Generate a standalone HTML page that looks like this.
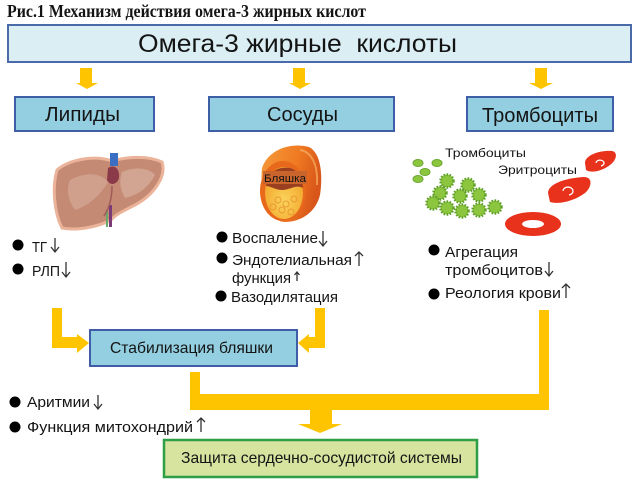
<!DOCTYPE html>
<html><head><meta charset="utf-8">
<style>
html,body{margin:0;padding:0;background:#fff;}
svg{display:block;}
text{font-family:"Liberation Sans","DejaVu Sans",sans-serif;fill:#141414;}
</style></head>
<body>
<svg width="637" height="490" viewBox="0 0 637 490" xmlns="http://www.w3.org/2000/svg">
<defs>
<linearGradient id="tube" x1="0" y1="0" x2="1" y2="0.3">
<stop offset="0" stop-color="#f59a3a"/><stop offset="0.6" stop-color="#ef7a22"/><stop offset="1" stop-color="#d9561a"/>
</linearGradient>
<radialGradient id="lumen" cx="0.5" cy="0.65" r="0.6">
<stop offset="0" stop-color="#fbd45a"/><stop offset="1" stop-color="#f2a52c"/>
</radialGradient>
</defs>

<!-- Title -->
<text x="7" y="17" style="font-family:'Liberation Serif',serif;font-weight:bold;font-size:18px" textLength="359" lengthAdjust="spacingAndGlyphs">Рис.1 Механизм действия омега-3 жирных кислот</text>

<!-- Top box -->
<rect x="8" y="25" width="623" height="37" fill="#dbeef4" stroke="#4a6aaa" stroke-width="2"/>
<text x="138" y="52" style="font-size:25px;white-space:pre" textLength="319" lengthAdjust="spacingAndGlyphs">Омега-3 жирные  кислоты</text>

<!-- Top arrows -->
<g fill="#ffc400">
<path d="M80,68 H92 V83 H98 L87,89 L76,83 H80 Z"/>
<path d="M293,68 H305 V83 H311 L300,89 L289,83 H293 Z"/>
<path d="M535,68 H547 V83 H553 L541,89 L529,83 H535 Z"/>
</g>

<!-- Category boxes -->
<rect x="15" y="97" width="139" height="34" fill="#93cfe0" stroke="#3e5fa8" stroke-width="2"/>
<text x="45" y="121" style="font-size:20px" textLength="75" lengthAdjust="spacingAndGlyphs">Липиды</text>
<rect x="209" y="97" width="185" height="34" fill="#93cfe0" stroke="#3e5fa8" stroke-width="2"/>
<text x="267" y="121" style="font-size:20px" textLength="71" lengthAdjust="spacingAndGlyphs">Сосуды</text>
<rect x="467" y="97" width="146" height="34" fill="#93cfe0" stroke="#3e5fa8" stroke-width="2"/>
<text x="482" y="122" style="font-size:20px" textLength="116" lengthAdjust="spacingAndGlyphs">Тромбоциты</text>

<!-- Liver -->
<g>
<path d="M57,170 C70,159 95,155 112,161 C126,157 147,155 162,162 C167,177 153,196 133,206 C123,211 115,215 111,220 C98,227 76,231 62,228 C54,212 52,187 57,170 Z" fill="#c48a74" stroke="#eab39a" stroke-width="3"/>
<path d="M70,180 C85,172 100,172 108,182 C100,195 90,205 75,210 C68,200 66,190 70,180 Z" fill="#d3a593" opacity="0.8"/>
<path d="M122,172 C135,166 150,168 155,175 C148,188 138,195 125,198 C120,190 119,180 122,172 Z" fill="#d6ab9a" opacity="0.8"/>
<path d="M108,168 C114,164 120,168 119,178 C117,185 110,186 107,180 Z" fill="#8b3a4a"/>
<rect x="110" y="153" width="8" height="13" fill="#3b6fc4"/>
<rect x="106" y="210" width="2" height="17" fill="#6aa86a"/>
<rect x="109" y="205" width="3" height="22" fill="#7a3a7a"/>
<path d="M112,186 C112,200 108,210 104,216" stroke="#a05a5a" stroke-width="1.5" fill="none"/>
</g>

<!-- Vessel -->
<g>
<path d="M262,168 C268,150 290,142 309,147 C321,153 323,175 320,195 C316,212 301,222 285,222 C270,222 259,198 262,168 Z" fill="url(#tube)"/>
<path d="M300,150 C312,152 318,165 317,185" stroke="#f8b060" stroke-width="2" fill="none" opacity="0.7"/>
<ellipse cx="283" cy="191" rx="23" ry="30" fill="#e8681c"/>
<ellipse cx="284" cy="193" rx="19" ry="26" fill="url(#lumen)"/>
<path d="M266,186 C268,172 278,166 290,168 C298,170 302,178 303,188 C296,184 290,190 282,190 C276,190 270,186 266,186 Z" fill="#9a4020"/>
<g fill="none" stroke="#e69030" stroke-width="1" opacity="0.8">
<circle cx="278" cy="200" r="3"/><circle cx="286" cy="204" r="3"/><circle cx="294" cy="199" r="3"/><circle cx="282" cy="210" r="3"/><circle cx="291" cy="212" r="3"/><circle cx="273" cy="207" r="3"/>
</g>
<rect x="263" y="171" width="44" height="13" fill="#c8642c"/>
<text x="264" y="182" style="font-size:11px" textLength="42" lengthAdjust="spacingAndGlyphs">Бляшка</text>
</g>

<!-- Platelets & erythrocytes -->
<text x="445" y="157" style="font-size:11.5px" textLength="81" lengthAdjust="spacingAndGlyphs">Тромбоциты</text>
<text x="498" y="174" style="font-size:11.5px" textLength="79" lengthAdjust="spacingAndGlyphs">Эритроциты</text>
<g fill="#8cc63f" stroke="#6aa832" stroke-width="1">
<ellipse cx="418" cy="163" rx="5" ry="3.5"/>
<ellipse cx="437" cy="163" rx="5" ry="3.5"/>
<ellipse cx="425" cy="172" rx="5" ry="3.5"/>
<ellipse cx="418" cy="179" rx="5" ry="3.5"/>
</g>
<g fill="#8cc63f" stroke="#5f9e2a" stroke-width="2.5" stroke-dasharray="1.5 1.5">
<circle cx="447" cy="181" r="6.5"/>
<circle cx="468" cy="185" r="6.5"/>
<circle cx="440" cy="193" r="6.5"/>
<circle cx="460" cy="196" r="6.5"/>
<circle cx="479" cy="195" r="6.5"/>
<circle cx="433" cy="203" r="6.5"/>
<circle cx="447" cy="208" r="6.5"/>
<circle cx="462" cy="211" r="6.5"/>
<circle cx="479" cy="210" r="6.5"/>
<circle cx="495" cy="207" r="6.5"/>
</g>
<g fill="#e8321c">
<path d="M585,163 C585,155 600,150 612,151 C618,152 617,160 610,165 C604,170 592,174 586,170 Z"/>
<path d="M548,193 C548,184 565,178 584,177 C593,177 592,187 585,193 C576,200 560,205 550,202 Z"/>
<ellipse cx="533" cy="224" rx="28" ry="12"/>
</g>
<ellipse cx="533" cy="224" rx="11" ry="4" fill="#fff"/>
<path d="M596,163 a4,3 0 1 1 5,3" stroke="#fff" stroke-width="1.3" fill="none"/>
<path d="M563,191 a5,4 0 1 1 6,4" stroke="#fff" stroke-width="1.3" fill="none"/>

<!-- Bullets -->
<g fill="#000">
<circle cx="18" cy="245" r="5.5"/>
<circle cx="18" cy="269" r="5.5"/>
<circle cx="222" cy="237" r="5.5"/>
<circle cx="222" cy="258" r="5.5"/>
<circle cx="221" cy="296" r="5.5"/>
<circle cx="434" cy="250" r="5.5"/>
<circle cx="434" cy="294" r="5.5"/>
<circle cx="15" cy="402" r="5.5"/>
<circle cx="15" cy="427" r="5.5"/>
</g>
<g style="font-size:15px">
<text x="32" y="252" textLength="15" lengthAdjust="spacingAndGlyphs">ТГ</text>
<text x="32" y="276" textLength="28" lengthAdjust="spacingAndGlyphs">РЛП</text>
<text x="232" y="243" textLength="86" lengthAdjust="spacingAndGlyphs">Воспаление</text>
<text x="232" y="265" textLength="120" lengthAdjust="spacingAndGlyphs">Эндотелиальная</text>
<text x="232" y="283" textLength="59" lengthAdjust="spacingAndGlyphs">функция</text>
<text x="231" y="302" textLength="107" lengthAdjust="spacingAndGlyphs">Вазодилятация</text>
<text x="445" y="257" textLength="73" lengthAdjust="spacingAndGlyphs">Агрегация</text>
<text x="445" y="275" textLength="98" lengthAdjust="spacingAndGlyphs">тромбоцитов</text>
<text x="445" y="298" textLength="116" lengthAdjust="spacingAndGlyphs">Реология крови</text>
<text x="27" y="407" textLength="63" lengthAdjust="spacingAndGlyphs">Аритмии</text>
<text x="27" y="432" textLength="166" lengthAdjust="spacingAndGlyphs">Функция митохондрий</text>
</g>

<!-- thin up/down arrows -->
<g stroke="#333" stroke-width="1.3" fill="none">
<path d="M55,238 V252 M51,247 L55,252 L59,247"/>
<path d="M66,262 V277 M62,272 L66,277 L70,272"/>
<path d="M323,231 V246 M319,241 L323,246 L327,241"/>
<path d="M359,252 V266 M355,256 L359,252 L363,256"/>
<path d="M297,272 V281 M294.5,275 L297,272 L299.5,275"/>
<path d="M549,262 V276 M545,271 L549,276 L553,271"/>
<path d="M566,284 V298 M562,288 L566,284 L570,288"/>
<path d="M98,395 V409 M94,404 L98,409 L102,404"/>
<path d="M201,418 V432 M197,422 L201,418 L205,422"/>
</g>

<!-- Yellow connectors -->
<g fill="#ffc400">
<path d="M52,308 H62 V337 H77 V334 L89,343 L77,353 V348 H52 Z"/>
<path d="M315,308 H325 V348 H309 V353 L298,343 L309,334 V337 H315 Z"/>
<path d="M190,372 H200 V394 H539 V310 H549 V410 H332 V424 H342 L320,433 L298,424 H310 V410 H190 Z"/>
</g>

<!-- Stabilization box -->
<rect x="90" y="330" width="207" height="36" fill="#93cfe0" stroke="#3e5fa8" stroke-width="2"/>
<text x="110" y="353" style="font-size:16px" textLength="163" lengthAdjust="spacingAndGlyphs">Стабилизация бляшки</text>

<!-- Green box -->
<rect x="164" y="440" width="313" height="37" fill="#d6e4a0" stroke="#2f9e45" stroke-width="2.5"/>
<text x="181" y="463" style="font-size:16px" textLength="281" lengthAdjust="spacingAndGlyphs">Защита сердечно-сосудистой системы</text>
</svg>
</body></html>
